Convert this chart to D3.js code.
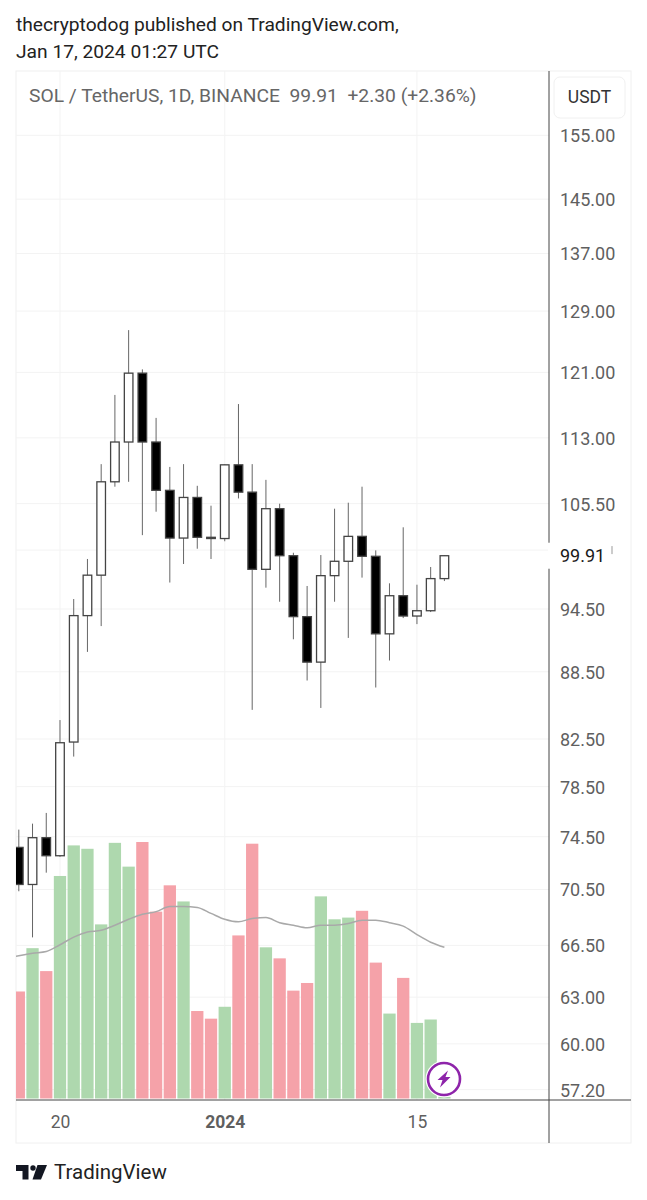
<!DOCTYPE html>
<html lang="en">
<head>
<meta charset="utf-8">
<title>SOL / TetherUS, 1D, BINANCE</title>
<style>
  html, body { margin: 0; padding: 0; background: #fff; }
  svg { display: block; }
  text { font-family: Roboto, sans-serif; white-space: pre; }
</style>
</head>
<body>
<script src="https://cdn.jsdelivr.net/npm/d3@7/dist/d3.min.js"></script>
<script>
// daily candles, 17 Dec 2023 - 17 Jan 2024
var days = ["12-17","12-18","12-19","12-20","12-21","12-22","12-23","12-24","12-25","12-26","12-27","12-28","12-29","12-30","12-31",
            "01-01","01-02","01-03","01-04","01-05","01-06","01-07","01-08","01-09","01-10","01-11","01-12","01-13","01-14","01-15","01-16","01-17"];
var opens  = [73.67,70.87,74.42,73.03,82.24,93.85,97.90,107.93,112.51,120.90,112.51,106.97,101.77,106.18,101.85,
              101.72,109.86,106.77,98.50,104.94,99.91,93.75,89.40,97.85,99.33,101.95,99.85,92.08,95.82,93.81,94.33,97.55];
var highs  = [75.05,75.52,76.37,84.15,95.49,99.57,109.94,118.18,126.46,121.38,115.38,109.62,109.94,107.48,105.27,
              109.90,117.06,109.94,108.15,105.49,100.22,96.80,99.98,104.94,105.60,107.38,100.47,97.07,102.92,96.93,98.74,99.95];
var lows   = [70.37,67.06,71.75,72.95,81.00,90.36,92.83,107.38,107.93,102.08,104.61,97.15,99.05,100.64,99.57,
              101.43,106.07,85.05,96.63,95.22,91.56,87.70,85.22,95.22,91.69,97.65,87.06,89.55,93.61,93.02,94.20,97.30];
var closes = [70.87,74.42,73.03,82.18,93.85,97.90,107.93,112.51,120.90,112.51,106.97,101.77,106.18,101.85,101.72,
              109.86,106.77,98.50,104.94,99.91,93.75,89.40,97.85,99.33,101.95,99.85,92.08,95.82,93.81,94.33,97.55,99.91];
var volumes = [12.6,17.7,15.0,26.2,29.8,29.4,20.5,30.1,27.3,30.2,22.0,25.1,23.2,10.3,9.4,
               10.8,19.2,30.0,17.8,16.5,12.7,13.6,23.8,21.1,21.3,22.1,16.0,10.0,14.2,8.9,9.3,0.2];
var volumeMA = [16.8,17.1,17.3,18.1,19.0,19.6,19.8,20.4,21.1,21.7,22.0,22.6,22.6,22.5,21.8,
                21.1,20.8,21.2,21.3,20.7,20.4,20.1,20.4,20.4,20.6,21.0,21.0,20.7,20.3,19.3,18.4,17.8];
var maLeadIn = 16.6;   // the average comes in from the day before the pane starts

var priceTicks = [155,145,137,129,121,113,105.5,94.5,88.5,82.5,78.5,74.5,70.5,66.5,63,60,57.2];
var hiddenTick = 100.5;   // label sits behind the last price tag
var lastPrice = 99.91;
var timeTicks = ["12-20","01-01","01-15"];
var timeLabels = {"12-20":"20","01-01":"2024","01-15":"15"};

var w = 647, h = 1200;
var chart = {left: 16, right: 549, top: 71, bottom: 1100, outerRight: 631, outerBottom: 1143};

var svg = d3.select("body").append("svg").attr("width", w).attr("height", h);

// price scale is logarithmic
var x = d3.scalePoint().domain(days).range([18.8, 444.4]);
var y = d3.scaleLog().domain([165.7, 56.56]).range([chart.top + 0.4, chart.bottom + 0.4]);
var yVol = d3.scaleLinear().domain([0, 30.2]).range([1098.5, 842]);

svg.append("clipPath").attr("id", "pane").append("rect")
  .attr("x", chart.left).attr("y", chart.top)
  .attr("width", chart.right - chart.left).attr("height", chart.bottom - chart.top);

// frame
svg.append("rect")
  .attr("x", chart.left).attr("y", chart.top)
  .attr("width", chart.outerRight - chart.left).attr("height", chart.outerBottom - chart.top)
  .attr("fill", "#fff").attr("stroke", "#f0f0f0").attr("stroke-width", 1);

// grid
var grid = svg.append("g").attr("stroke", "#f3f3f3").attr("stroke-width", 1);
grid.selectAll(".h").data(priceTicks.concat([hiddenTick])).enter().append("line")
  .attr("x1", chart.left).attr("x2", chart.right)
  .attr("y1", function(d) { return y(d); }).attr("y2", function(d) { return y(d); });
grid.selectAll(".v").data(timeTicks).enter().append("line")
  .attr("y1", chart.top).attr("y2", chart.bottom)
  .attr("x1", function(d) { return x(d); }).attr("x2", function(d) { return x(d); });

var pane = svg.append("g").attr("clip-path", "url(#pane)");

// volume
var barW = 12.3;
pane.append("g").selectAll("rect").data(days).enter().append("rect")
  .attr("x", function(d) { return x(d) - barW / 2; })
  .attr("width", barW)
  .attr("y", function(d, i) { return yVol(volumes[i]); })
  .attr("height", function(d, i) { return yVol(0) - yVol(volumes[i]); })
  .attr("fill", function(d, i) { return closes[i] >= opens[i] ? "#aed8ae" : "#f5a2a9"; });

// volume moving average
var maLine = d3.line()
  .x(function(d, i) { return x(days[0]) + (i - 1) * x.step(); })
  .y(function(d) { return yVol(d); })
  .curve(d3.curveMonotoneX);
pane.append("path").datum([maLeadIn].concat(volumeMA))
  .attr("d", maLine)
  .attr("fill", "none").attr("stroke", "#a9a9a9").attr("stroke-width", 1.5);

// candles
var candleW = 8.6;
var candles = pane.append("g");
candles.selectAll("line").data(days).enter().append("line")
  .attr("x1", function(d) { return x(d); }).attr("x2", function(d) { return x(d); })
  .attr("y1", function(d, i) { return y(highs[i]); })
  .attr("y2", function(d, i) { return y(lows[i]); })
  .attr("stroke", "#666").attr("stroke-width", 1);
candles.selectAll("rect").data(days).enter().append("rect")
  .attr("x", function(d) { return x(d) - candleW / 2; })
  .attr("width", candleW)
  .attr("y", function(d, i) { return y(Math.max(opens[i], closes[i])); })
  .attr("height", function(d, i) { return Math.abs(y(opens[i]) - y(closes[i])); })
  .attr("fill", function(d, i) { return closes[i] >= opens[i] ? "#fff" : "#000"; })
  .attr("stroke", "#444").attr("stroke-width", 1.3);

// axis lines
svg.append("line").attr("x1", chart.right).attr("x2", chart.right)
  .attr("y1", chart.top).attr("y2", chart.outerBottom).attr("stroke", "#444").attr("stroke-width", 1);
svg.append("line").attr("x1", chart.left).attr("x2", chart.outerRight)
  .attr("y1", chart.bottom).attr("y2", chart.bottom).attr("stroke", "#444").attr("stroke-width", 1);

// price axis
var yAxis = svg.append("g")
  .attr("transform", "translate(" + chart.right + ",0)")
  .call(d3.axisRight(y).tickValues(priceTicks).tickSize(0).tickPadding(11)
    .tickFormat(function(d) { return d.toFixed(2); }));
yAxis.select(".domain").remove();
yAxis.selectAll("text").attr("font-size", 18).attr("fill", "#5f5f5f").attr("dy", "0.36em")
  .style("font-family", "Roboto, sans-serif");

// last price tag, with the bit of the hidden label peeking out
svg.append("rect").attr("x", chart.right - 1).attr("y", y(lastPrice) - 13)
  .attr("width", 66).attr("height", 26).attr("fill", "#fff");
svg.append("text").attr("x", 560).attr("y", y(lastPrice)).attr("dy", "0.36em")
  .attr("font-size", 18).attr("fill", "#1a1a1a").text(lastPrice.toFixed(2));
svg.append("line").attr("x1", 612).attr("x2", 612)
  .attr("y1", y(hiddenTick) - 4).attr("y2", y(hiddenTick) + 4)
  .attr("stroke", "#999").attr("stroke-width", 1);

// time axis
var xAxis = svg.append("g")
  .attr("transform", "translate(0," + chart.bottom + ")")
  .call(d3.axisBottom(x).tickValues(timeTicks).tickSize(0).tickPadding(16)
    .tickFormat(function(d) { return timeLabels[d]; }));
xAxis.select(".domain").remove();
xAxis.selectAll("text").attr("font-size", 17.5).attr("fill", "#5f5f5f").style("font-family", "Roboto, sans-serif")
  .attr("font-weight", function(d) { return d === "01-01" ? 700 : 400; });

// header
svg.append("text").attr("x", 16).attr("y", 31).attr("font-size", 19.2).attr("fill", "#222")
  .text("thecryptodog published on TradingView.com,");
svg.append("text").attr("x", 16).attr("y", 58).attr("font-size", 19.2).attr("fill", "#222")
  .text("Jan 17, 2024 01:27 UTC");
svg.append("text").attr("x", 29).attr("y", 102).attr("font-size", 19.25).attr("fill", "#666")
  .text("SOL / TetherUS, 1D, BINANCE  99.91  +2.30 (+2.36%)");

// currency button
svg.append("rect").attr("x", 554).attr("y", 77).attr("width", 71).attr("height", 41).attr("rx", 6)
  .attr("fill", "#fff").attr("stroke", "#f0f0f0");
svg.append("text").attr("x", 589.5).attr("y", 103).attr("text-anchor", "middle")
  .attr("font-size", 17.5).attr("fill", "#333").text("USDT");

// lightning badge
var badge = svg.append("g").attr("transform", "translate(444,1079)");
badge.append("circle").attr("r", 18.5).attr("fill", "#fff");
badge.append("circle").attr("r", 16).attr("fill", "#fff").attr("stroke", "#8e24aa").attr("stroke-width", 2.6);
badge.append("path").attr("d", "M4,-8.5 L-6.5,1 L-1.5,1 L-4,8.5 L6.5,-2 L1.5,-2 Z").attr("fill", "#8e24aa");

// TradingView logo
var logo = svg.append("g").attr("transform", "translate(16,1164)").attr("fill", "#131722");
logo.append("path").attr("d", "M0,1 H12.5 V15.5 H6.5 V7 H0 Z");
logo.append("circle").attr("cx", 17).attr("cy", 4).attr("r", 2.7);
logo.append("path").attr("d", "M21.5,1 H31 L25,15.5 H16.5 Z");
svg.append("text").attr("x", 54).attr("y", 1179).attr("font-size", 20.5).attr("fill", "#222").text("TradingView");
</script>
</body>
</html>
